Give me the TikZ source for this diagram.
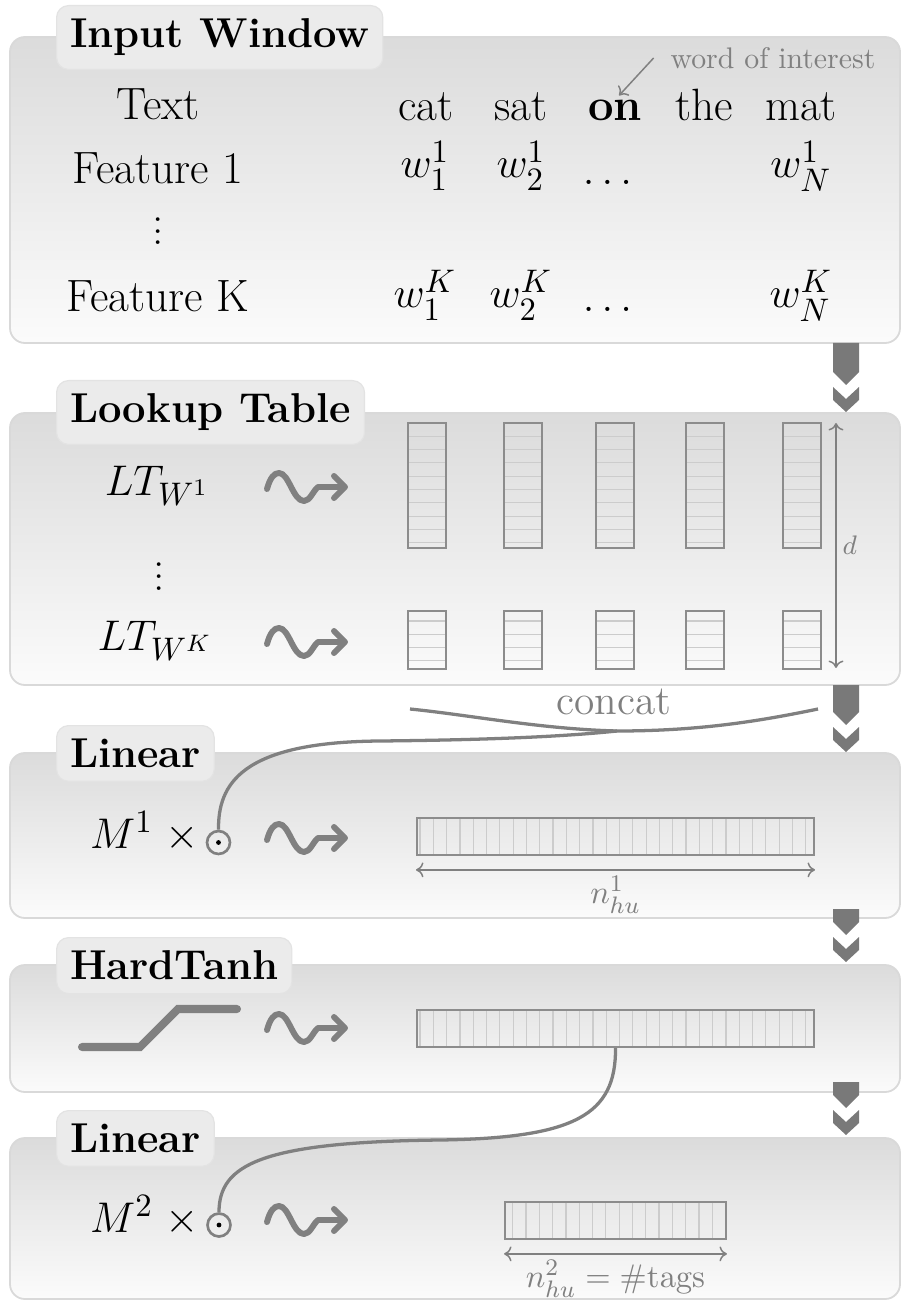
\documentclass[tikz,border=0pt]{standalone}
\usepackage{amsmath}
\usetikzlibrary{arrows.meta}

% squiggly arrow icon, #1 = left end of its axis
\newcommand{\wiggle}[1]{%
	\draw[wig, shift={(#1)}] (0,2) .. controls (3,-9) and (7,-14) .. (12,-14)
		.. controls (22,-14) and (26,14) .. (37,14) .. controls (43,14) and (46,4) .. (51,0) -- (78,0)
		(67,-11) -- (78,0) -- (67,11);}
% block arrow between two layers, #1 = top, #2 = tip
\newcommand{\flowdown}[2]{%
	\fill[flow] (833,#1) -- (859,#1) -- (859,#2-40) -- (846,#2-27) -- (833,#2-40) -- cycle;
	\fill[flow] (833,#2-25) -- (846,#2-13) -- (859,#2-25) -- (859,#2-12) -- (846,#2) -- (833,#2-12) -- cycle;}

\begin{document}
\begin{tikzpicture}[
		x=0.0118cm, y=-0.0118cm,
		panel/.style = {draw=gray!30, line width=0.6pt, rounded corners=5pt, top color=gray!28, bottom color=gray!3},
		tab/.style = {draw=gray!22, fill=gray!16, rounded corners=4pt, inner sep=4.5pt, anchor=north west, font=\fontsize{14}{17}\selectfont\bfseries},
		word/.style = {anchor=base, inner sep=0pt, font=\fontsize{15.2}{18}\selectfont},
		note/.style = {inner sep=0pt, text=gray},
		vec/.style = {draw=gray!90, line width=0.6pt, inner sep=0pt, minimum height=12.6pt},
		cell/.style = {draw=gray!40, line width=0.4pt},
		dim/.style = {draw=gray, line width=0.5pt, {To[length=2.5pt,width=5pt]}-{To[length=2.5pt,width=5pt]}},
		wire/.style = {draw=gray, line width=1.1pt},
		dotc/.style = {draw=gray, line width=0.9pt, circle, minimum size=7.7pt, inner sep=0pt},
		wig/.style = {draw=gray, line width=2pt, line cap=round, line join=round},
		flow/.style = {fill=gray!95!black}
	]
	\useasboundingbox (0,0) rectangle (902,1300);

	% layers
	\draw[panel] (10,37) rectangle (900,343);
	\draw[panel] (10,413) rectangle (900,685);
	\draw[panel] (10,753) rectangle (900,918);
	\draw[panel] (10,965) rectangle (900,1092);
	\draw[panel] (10,1138) rectangle (900,1299);
	\node[tab] (tin) at (56,5) {Input Window};
	\node[tab] (tlt) at (56,380) {Lookup Table};
	\node[tab] (tl1) at (56,725) {Linear};
	\node[tab] (tht) at (56,937) {HardTanh};
	\node[tab] (tl2) at (56,1110) {Linear};
	\flowdown{343}{412}
	\flowdown{685}{752}
	\flowdown{909}{962}
	\flowdown{1082}{1135}

	% input window
	\node[word] (txt) at (158,120) {Text};
	\node[word] (cat) at (426,121) {cat};
	\node[word] (sat) at (521,121) {sat};
	\node[word] (on) at (615,121) {\textbf{on}};
	\node[word] (the) at (704,121) {the};
	\node[word] (mat) at (801,121) {mat};
	\node[note, anchor=west] (woi) at (670,58) {word of interest};
	\draw[draw=gray, line width=0.5pt, -{To[length=2.5pt,width=5pt]}, shorten >=2pt] ([xshift=-5.5pt]woi.west) -- (on.north);
	\node[word] (f1) at (158,184) {Feature 1};
	\node[word] (w11) at (425,178) {$w_1^1$};
	\node[word] (w21) at (521,178) {$w_2^1$};
	\node[word] (d1) at (611,185) {$\dots$};
	\node[word] (wn1) at (801,178) {$w_N^1$};
	\node[word] (vd1) at (158,245) {$\vdots$};
	\node[word] (fk) at (158,312) {Feature K};
	\node[word] (w1k) at (425,308) {$w_1^K$};
	\node[word] (w2k) at (521,308) {$w_2^K$};
	\node[word] (dk) at (611,312) {$\dots$};
	\node[word] (wnk) at (801,308) {$w_N^K$};

	% lookup table
	\node[word] (lt1) at (157,495) {$LT_{W^1}$};
	\node[word] (vd2) at (159,590) {$\vdots$};
	\node[word] (ltk) at (155,650) {$LT_{W^K}$};
	\wiggle{267,487}
	\wiggle{267,642}
	\foreach \cx in {408,504,596,686,783} {
		\foreach \cy in {436.3,449.6,...,545} \draw[cell] (\cx,\cy) -- (\cx+38,\cy);
		\foreach \cy in {621,634.3,647.6,660.9} \draw[cell] (\cx,\cy) -- (\cx+38,\cy);
		\draw[vec] (\cx,423) rectangle (\cx+38,548);
		\draw[vec] (\cx,611) rectangle (\cx+38,669);
	}
	\coordinate (dtop) at (836,423);
	\coordinate (dbot) at (836,668);
	\draw[dim] (dtop) -- node[note, right=2pt, font=\small] {$d$} (dbot);

	% concat
	\coordinate (catl) at (410,709);
	\coordinate (catr) at (818,709);
	\coordinate (cj) at (617,731);
	\node[note, font=\fontsize{13.9}{17}\selectfont] (concat) at (614,702) {concat};
	\draw[wire] (catl) .. controls (470,715) and (540,729) .. (cj) .. controls (700,731) and (760,721) .. (catr);

	% first linear layer
	\node[word, anchor=base east] (m1) at (199,848) {$M^1\;\times$};
	\node[dotc] (c1) at (218.5,842.5) {};
	\fill (c1) circle (0.8pt);
	\draw[wire] (c1.north) .. controls (218,785) and (240,742) .. (380,741) .. controls (480,740) and (560,737) .. (cj);
	\wiggle{267,838}
	\foreach \x in {420,433.3,...,810} \draw[cell] (\x,818) -- (\x,855);
	\node[vec, minimum width=133.3pt] (h1) at (615.5,836.5) {};
	\draw[dim] ([yshift=-4.6pt]h1.south west) -- node[note, below=2pt, font=\fontsize{11}{13}\selectfont] {$n_{hu}^1$} ([yshift=-4.6pt]h1.south east);

	% hardtanh
	\draw[gray, line width=2.7pt, line cap=round] (82,1047) -- (140,1047) -- (178,1009) -- (237,1009);
	\wiggle{267,1028}
	\foreach \x in {420,433.3,...,810} \draw[cell] (\x,1010) -- (\x,1047);
	\node[vec, minimum width=133.3pt] (h2) at (615.5,1028.5) {};

	% second linear layer
	\node[word, anchor=base east] (m2) at (199,1232) {$M^2\;\times$};
	\node[dotc] (c2) at (219,1225) {};
	\fill (c2) circle (0.8pt);
	\draw[wire] (h2.south) .. controls (616,1115) and (575,1138) .. (440,1140) .. controls (260,1142) and (219,1165) .. (c2.north);
	\wiggle{267,1220}
	\foreach \x in {512.7,526,...,720} \draw[cell] (\x,1202) -- (\x,1239);
	\node[vec, minimum width=74.2pt] (out) at (615.5,1220.5) {};
	\draw[dim] ([yshift=-4.6pt]out.south west) -- node[note, below=2pt, font=\fontsize{11}{13}\selectfont] {$n_{hu}^2 = \#\mathrm{tags}$} ([yshift=-4.6pt]out.south east);
\end{tikzpicture}
\end{document}
